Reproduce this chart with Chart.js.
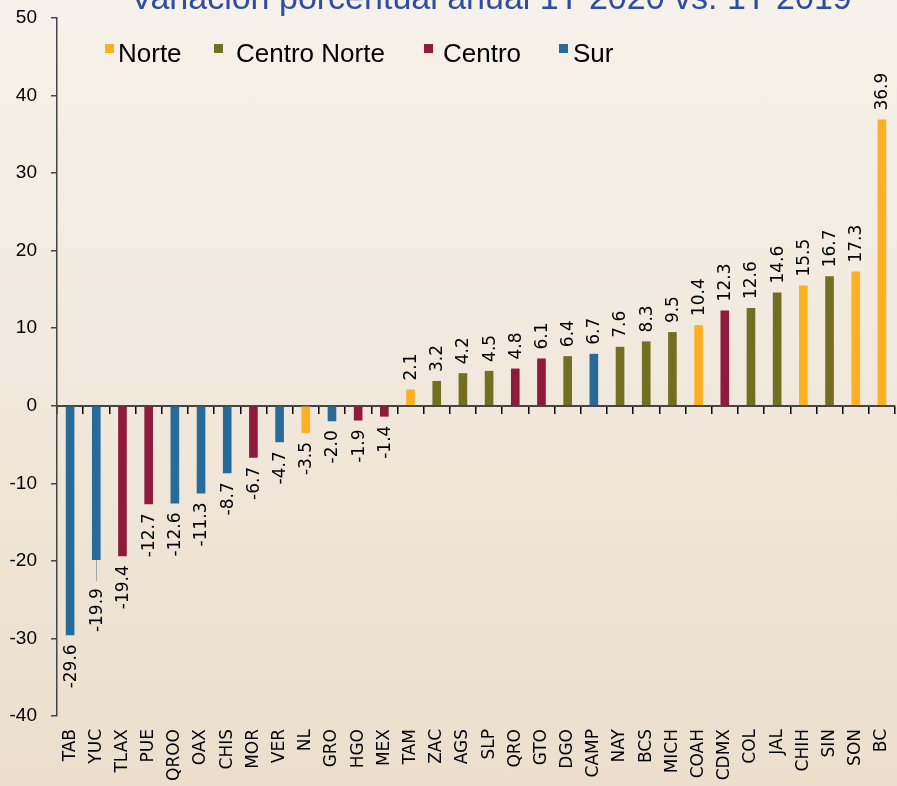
<!DOCTYPE html>
<html>
<head>
<meta charset="utf-8">
<script src="https://cdn.jsdelivr.net/npm/chart.js@4.4.1/dist/chart.umd.min.js"></script>
<style>
    html, body { margin: 0; padding: 0; }
    body {
        width: 897px;
        height: 786px;
        background: linear-gradient(to bottom, #f6f1ea 0%, #f1e9dd 45%, #ebdfcc 100%);
        overflow: hidden;
    }
    #wrap { position: relative; width: 897px; height: 786px; }
</style>
</head>
<body>
<div id="wrap"><canvas id="chart"></canvas></div>
<script>
// ---------- data ----------
const states = ["TAB","YUC","TLAX","PUE","QROO","OAX","CHIS","MOR","VER","NL","GRO","HGO","MEX",
                "TAM","ZAC","AGS","SLP","QRO","GTO","DGO","CAMP","NAY","BCS","MICH","COAH","CDMX",
                "COL","JAL","CHIH","SIN","SON","BC"];
const values = [-29.6,-19.9,-19.4,-12.7,-12.6,-11.3,-8.7,-6.7,-4.7,-3.5,-2.0,-1.9,-1.4,
                2.1,3.2,4.2,4.5,4.8,6.1,6.4,6.7,7.6,8.3,9.5,10.4,12.3,
                12.6,14.6,15.5,16.7,17.3,36.9];
const regionOf = ["Sur","Sur","Centro","Centro","Sur","Sur","Sur","Centro","Sur","Norte","Sur","Centro","Centro",
                  "Norte","Centro Norte","Centro Norte","Centro Norte","Centro","Centro","Centro Norte","Sur","Centro Norte","Centro Norte","Centro Norte","Norte","Centro",
                  "Centro Norte","Centro Norte","Norte","Centro Norte","Norte","Norte"];
const regions = ["Norte","Centro Norte","Centro","Sur"];
const yTicks = [-40,-30,-20,-10,0,10,20,30,40,50];
const titleText = "Variación porcentual anual 1T 2020 vs. 1T 2019";

const regionColor = {
    "Norte": "#fdb022",
    "Centro Norte": "#726f23",
    "Centro": "#8e1a3c",
    "Sur": "#276b9b"
};

// legend item placement (square x, text x)
const legendPos = [[105, 118], [214, 236], [424, 443], [559, 573]];
// YUC label sits further down with a leader line in the original
const leaderFor = { "YUC": 19 };

// ---------- plugins ----------
const titlePlugin = {
    id: "topTitle",
    afterDraw(chart) {
        const ctx = chart.ctx;
        ctx.save();
        ctx.font = '34px "Liberation Sans", Arial, sans-serif';
        ctx.fillStyle = "#2f4c9f";
        ctx.textAlign = "center";
        ctx.textBaseline = "alphabetic";
        ctx.fillText(titleText, 491, 9);
        ctx.restore();
    }
};

const legendPlugin = {
    id: "regionLegend",
    afterDraw(chart) {
        const ctx = chart.ctx;
        ctx.save();
        ctx.font = '26px "Liberation Sans", Arial, sans-serif';
        ctx.textBaseline = "alphabetic";
        ctx.textAlign = "left";
        regions.forEach((r, i) => {
            const [sx, tx] = legendPos[i];
            ctx.fillStyle = regionColor[r];
            ctx.fillRect(sx, 44, 9, 9);
            ctx.fillStyle = "#000";
            ctx.fillText(r, tx, 62);
        });
        ctx.restore();
    }
};

const labelPlugin = {
    id: "barLabels",
    afterDatasetsDraw(chart) {
        const ctx = chart.ctx;
        const meta = chart.getDatasetMeta(0);
        ctx.save();
        ctx.font = '17px "DejaVu Sans", sans-serif';
        ctx.fillStyle = "#000";
        ctx.textBaseline = "middle";
        meta.data.forEach((bar, i) => {
            const v = values[i];
            const txt = v.toFixed(1);
            const extra = leaderFor[states[i]] || 0;
            if (extra) {
                ctx.strokeStyle = "#a6a6a6";
                ctx.lineWidth = 1;
                ctx.beginPath();
                ctx.moveTo(Math.round(bar.x) + 0.5, bar.y);
                ctx.lineTo(Math.round(bar.x) + 0.5, bar.y + extra + 2);
                ctx.stroke();
            }
            ctx.save();
            if (v >= 0) {
                ctx.translate(bar.x + 1, bar.y - 9);
                ctx.rotate(-Math.PI / 2);
                ctx.textAlign = "left";
            } else {
                ctx.translate(bar.x + 1, bar.y + 9 + extra);
                ctx.rotate(-Math.PI / 2);
                ctx.textAlign = "right";
            }
            ctx.fillText(txt, 0, 0);
            ctx.restore();
        });
        ctx.restore();
    }
};

// ---------- chart ----------
const axisColor = "#454545";

new Chart(document.getElementById("chart"), {
    type: "bar",
    data: {
        labels: states,
        datasets: [{
            data: values,
            backgroundColor: regionOf.map(r => regionColor[r]),
            borderWidth: 0,
            barPercentage: 0.33,
            categoryPercentage: 1
        }]
    },
    options: {
        responsive: true,
        maintainAspectRatio: false,
        animation: false,
        layout: { padding: { top: 18, right: 2, bottom: 0, left: 10 } },
        plugins: {
            legend: { display: false },
            tooltip: { enabled: false }
        },
        scales: {
            x: {
                type: "category",
                position: "bottom",
                offset: true,
                grid: { display: false, drawTicks: false },
                border: { display: false },
                ticks: {
                    minRotation: 90,
                    maxRotation: 90,
                    autoSkip: false,
                    padding: 13,
                    color: "#000",
                    font: { family: "DejaVu Sans", size: 17 }
                },
                afterFit(s) {
                    s.height = 70;
                    s.paddingLeft = 0;
                    s.paddingRight = 0;
                }
            },
            xZero: {
                type: "category",
                position: { y: 0 },
                offset: true,
                grid: {
                    offset: true,
                    drawOnChartArea: false,
                    drawTicks: true,
                    tickLength: 7,
                    color: "#000",
                    lineWidth: 1.5
                },
                border: { display: true, color: axisColor, width: 2 },
                ticks: { display: false }
            },
            y: {
                min: -40,
                max: 50,
                afterBuildTicks(scale) {
                    scale.ticks = yTicks.map(v => ({ value: v }));
                },
                grid: {
                    drawOnChartArea: false,
                    drawTicks: true,
                    tickLength: 6,
                    color: axisColor,
                    lineWidth: 1.5
                },
                border: { display: true, color: axisColor, width: 1.5 },
                ticks: {
                    padding: 14,
                    color: "#000",
                    font: { family: "Liberation Sans", size: 19 }
                },
                afterFit(s) {
                    s.width = 47;
                    s.paddingTop = 0;
                    s.paddingBottom = 0;
                }
            }
        }
    },
    plugins: [labelPlugin, legendPlugin, titlePlugin]
});
</script>
</body>
</html>
